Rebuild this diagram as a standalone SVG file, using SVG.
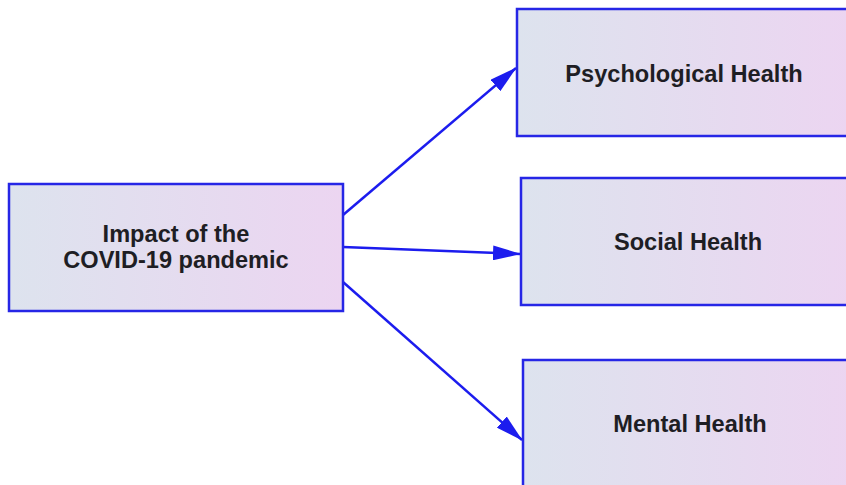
<svg xmlns="http://www.w3.org/2000/svg" width="846" height="485" viewBox="0 0 846 485">
  <style>
    .box { fill: url(#g); stroke: #2626e6; stroke-width: 2.5; }
    .lbl { font-family: "Liberation Sans", Arial, sans-serif; font-weight: bold; font-size: 23.6px; fill: #1e1e24; text-anchor: middle; }
    .edge { stroke: #1c1cee; stroke-width: 2.5; fill: none; marker-end: url(#ah); }
  </style>
  <defs>
    <linearGradient id="g" x1="0" y1="0" x2="1" y2="0">
      <stop offset="0" stop-color="#dde3ee"/>
      <stop offset="1" stop-color="#ecd5f1"/>
    </linearGradient>
    <marker id="ah" markerUnits="userSpaceOnUse" viewBox="0 0 28 15" refX="27" refY="7.5" markerWidth="28" markerHeight="15" orient="auto">
      <path d="M0,0 L28,7.5 L0,15 Z" fill="#1c1cee"/>
    </marker>
  </defs>
  <rect width="846" height="485" fill="#ffffff"/>
  <g id="connectors">
    <line class="edge" x1="343" y1="215" x2="516" y2="68"/>
    <line class="edge" x1="343" y1="247" x2="520" y2="254"/>
    <line class="edge" x1="343" y1="282" x2="522" y2="440"/>
  </g>
  <g id="impact">
    <rect class="box" x="9" y="184" width="334" height="127"/>
    <text class="lbl" x="176" y="242">Impact of the</text>
    <text class="lbl" x="176" y="268">COVID-19 pandemic</text>
  </g>
  <g id="psychological">
    <rect class="box" x="517" y="9" width="334" height="127"/>
    <text class="lbl" x="684" y="82">Psychological Health</text>
  </g>
  <g id="social">
    <rect class="box" x="521" y="178" width="334" height="127"/>
    <text class="lbl" x="688" y="250">Social Health</text>
  </g>
  <g id="mental">
    <rect class="box" x="523" y="360" width="334" height="127"/>
    <text class="lbl" x="690" y="432">Mental Health</text>
  </g>
</svg>
